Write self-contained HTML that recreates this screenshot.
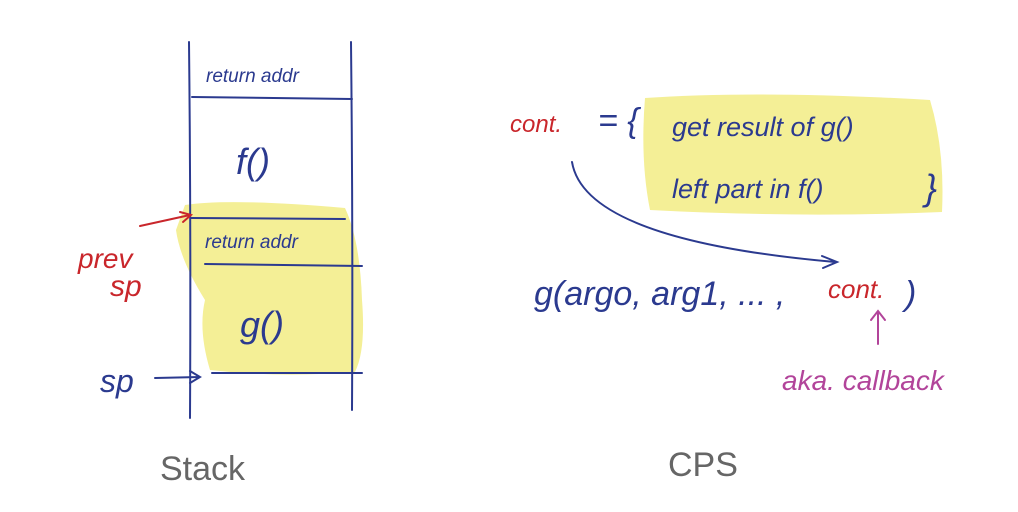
<!DOCTYPE html>
<html><head><meta charset="utf-8"><style>
html,body{margin:0;padding:0;background:#fff;}
svg{display:block}
text{font-family:"Liberation Sans","DejaVu Sans",sans-serif;}
</style></head><body>
<svg width="1018" height="512" viewBox="0 0 1018 512" xmlns="http://www.w3.org/2000/svg">
<!-- yellow highlights -->
<path d="M185,205 Q230,198 345,208 Q360,240 362,300 Q366,350 355,372 Q280,378 210,370 Q198,330 205,300 Q180,260 176,230 Z" fill="#f4ef96"/>
<path d="M645,98 Q760,90 930,100 Q945,150 942,212 Q800,218 650,210 Q640,160 645,98 Z" fill="#f4ef96"/>
<g stroke="#2b3a8f" stroke-width="2" fill="none" stroke-linecap="round">
<!-- stack -->
<path d="M189,42 Q191,230 190,418"/>
<path d="M351,42 Q353,230 352,410"/>
<path d="M192,97 L352,99"/>
<path d="M191,218 L345,219"/>
<path d="M205,264 L362,266"/>
<path d="M212,373 L362,373"/>
<!-- sp arrow -->
<path d="M155,378 L200,377 M190,371 L200,377 L190,383"/>
<!-- cps curve -->
<path d="M572,162 Q585,240 835,262 M822,256 L837,262 L823,268"/>
</g>
<g stroke="#c9262b" stroke-width="2" fill="none" stroke-linecap="round">
<path d="M140,226 L190,215 M180,212 L191,215 L183,222"/>
</g>
<g stroke="#b2449a" stroke-width="2" fill="none" stroke-linecap="round">
<path d="M878,344 L878,312 M871,320 L878,311 L885,320"/>
</g>
<g fill="#2b3a8f" font-style="italic">
<text x="206" y="82" font-size="19">return addr</text>
<text x="236" y="174" font-size="36">f()</text>
<text x="205" y="248" font-size="19">return addr</text>
<text x="240" y="337" font-size="36">g()</text>
<text x="100" y="392" font-size="32">sp</text>
<text x="598" y="132" font-size="34">= {</text>
<text x="672" y="136" font-size="27">get result of g()</text>
<text x="672" y="198" font-size="27">left part in f()</text>
<text x="925" y="200" font-size="36">}</text>
<text x="534" y="305" font-size="34">g(argo, arg1, ... ,</text>
<text x="905" y="305" font-size="34">)</text>
</g>
<g fill="#c9262b" font-style="italic">
<text x="78" y="268" font-size="28">prev</text>
<text x="110" y="296" font-size="30">sp</text>
<text x="510" y="132" font-size="24">cont.</text>
<text x="828" y="298" font-size="26">cont.</text>
</g>
<text x="782" y="390" font-size="28" fill="#b2449a" font-style="italic">aka. callback</text>
<text x="160" y="480" font-size="34" fill="#666">Stack</text>
<text x="668" y="476" font-size="34" fill="#666">CPS</text>
</svg>
</body></html>
